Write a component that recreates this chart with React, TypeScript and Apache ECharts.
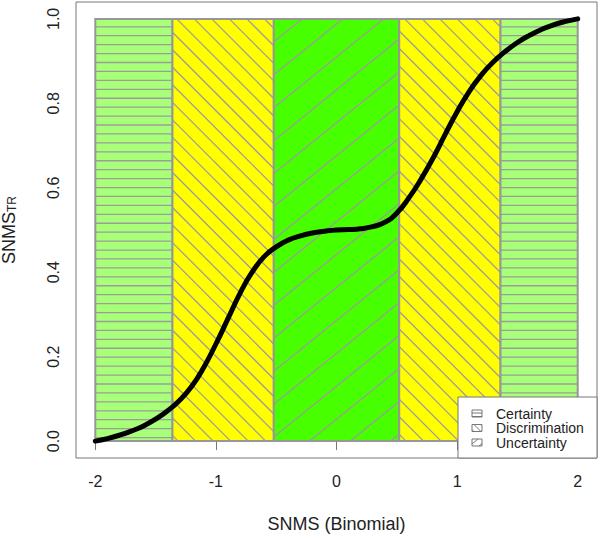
import React, { useEffect, useRef } from "react";
import * as echarts from "echarts";

// ---- data ----
const xTicks = [-2, -1, 0, 1, 2];
const yTicks = [0, 0.2, 0.4, 0.6, 0.8, 1.0];
const curveX = [-2, -1.9, -1.8, -1.7, -1.6, -1.5, -1.4, -1.3, -1.2, -1.1, -1.0, -0.9, -0.8, -0.7, -0.6, -0.5, -0.4, -0.3, -0.2, -0.1, 0, 0.1, 0.2, 0.3, 0.4, 0.5, 0.6, 0.7, 0.8, 0.9, 1.0, 1.1, 1.2, 1.3, 1.4, 1.5, 1.6, 1.7, 1.8, 1.9, 2.0];
const curveY = [0, 0.006, 0.014, 0.024, 0.036, 0.052, 0.072, 0.097, 0.13, 0.175, 0.23, 0.29, 0.35, 0.4, 0.437, 0.46, 0.476, 0.486, 0.493, 0.497, 0.5, 0.501, 0.503, 0.508, 0.518, 0.54, 0.576, 0.62, 0.67, 0.726, 0.78, 0.828, 0.867, 0.898, 0.923, 0.944, 0.961, 0.975, 0.986, 0.994, 1.0];
const regionStarts = [-2, -1.36, -0.52, 0.52, 1.36];
const regionEnds = [-1.36, -0.52, 0.52, 1.36, 2];
const regionKinds = ["Certainty", "Discrimination", "Uncertainty", "Discrimination", "Certainty"];
const regionBottom = 0;
const regionTop = 1;
const legendLabels = ["Certainty", "Discrimination", "Uncertainty"];

// ---- styles ----
const FONT = "'Liberation Sans', Arial, sans-serif";
const kindStyle: Record<string, { fill: string; angle: number; spacing: number; iconSpacing: number }> = {
  Certainty: { fill: "#a8ff78", angle: 0, spacing: 8.93, iconSpacing: 3.5 },
  Discrimination: { fill: "#ffff00", angle: -45, spacing: 12.4, iconSpacing: 5 },
  Uncertainty: { fill: "#48ff00", angle: 39, spacing: 25.6, iconSpacing: 6 },
};
const HATCH = "#9c9c9c";

function hatchLines(
  r: { x: number; y: number; w: number; h: number },
  angleDeg: number,
  spacing: number,
  stroke: string,
  lw: number,
  z?: number
) {
  const a = (angleDeg * Math.PI) / 180;
  const d = [Math.cos(a), -Math.sin(a)];
  const n = [Math.sin(a), Math.cos(a)];
  const corners = [
    [r.x, r.y],
    [r.x + r.w, r.y],
    [r.x, r.y + r.h],
    [r.x + r.w, r.y + r.h],
  ];
  const cs = corners.map((p) => p[0] * n[0] + p[1] * n[1]);
  const cmin = Math.min(...cs);
  const cmax = Math.max(...cs);
  const out: any[] = [];
  for (let c = Math.ceil(cmin / spacing) * spacing; c <= cmax; c += spacing) {
    const base = [c * n[0], c * n[1]];
    let t0 = -Infinity;
    let t1 = Infinity;
    let ok = true;
    for (let i = 0; i < 2; i++) {
      const lo = i === 0 ? r.x : r.y;
      const hi = lo + (i === 0 ? r.w : r.h);
      if (Math.abs(d[i]) < 1e-9) {
        if (base[i] < lo || base[i] > hi) ok = false;
      } else {
        let ta = (lo - base[i]) / d[i];
        let tb = (hi - base[i]) / d[i];
        if (ta > tb) {
          const tmp = ta;
          ta = tb;
          tb = tmp;
        }
        t0 = Math.max(t0, ta);
        t1 = Math.min(t1, tb);
      }
    }
    if (!ok || !(t1 > t0 + 0.5)) continue;
    const el: any = {
      type: "line",
      silent: true,
      shape: { x1: base[0] + t0 * d[0], y1: base[1] + t0 * d[1], x2: base[0] + t1 * d[0], y2: base[1] + t1 * d[1] },
      style: { stroke, lineWidth: lw },
    };
    if (z !== undefined) el.z = z;
    out.push(el);
  }
  return out;
}

export default function App() {
  const ref = useRef<HTMLDivElement>(null);
  useEffect(() => {
    if (!ref.current) return;
    const chart = echarts.init(ref.current, undefined, { renderer: "svg" });

    const regionData = regionStarts.map((s, i) => [s, regionEnds[i], regionBottom, regionTop, i]);

    // legend graphic
    const LX = 458, LY = 397, LW = 139, LH = 61;
    const rowY = [413.5, 428, 442.5];
    const ZL = 100;
    const legendEls: any[] = [
      { type: "rect", z: ZL, shape: { x: LX, y: LY, width: LW, height: LH }, style: { fill: "#fff", stroke: "#777", lineWidth: 1 } },
    ];
    legendLabels.forEach((lab, i) => {
      const ks = kindStyle[lab];
      const ir = { x: 472, y: rowY[i] - 3.5, w: 10, h: 7 };
      legendEls.push({ type: "rect", z: ZL + 1, shape: { x: ir.x, y: ir.y, width: ir.w, height: ir.h }, style: { fill: "#fff", stroke: "none" } });
      hatchLines(ir, ks.angle, ks.iconSpacing, "#777", 1, ZL + 2).forEach((l) => legendEls.push(l));
      legendEls.push({ type: "rect", z: ZL + 3, shape: { x: ir.x, y: ir.y, width: ir.w, height: ir.h }, style: { fill: "none", stroke: "#777", lineWidth: 1 } });
      legendEls.push({
        type: "text",
        z: ZL + 3,
        x: 496,
        y: rowY[i],
        style: { text: lab, fill: "#222", font: `14px ${FONT}`, textVerticalAlign: "middle", textAlign: "left" },
      });
    });

    chart.setOption({
      animation: false,
      backgroundColor: "#ffffff",
      grid: {
        left: 76,
        top: 2,
        width: 521,
        height: 456,
        show: true,
        borderColor: "#777",
        borderWidth: 1,
        backgroundColor: "transparent",
        containLabel: false,
        outerBoundsMode: "none",
      },
      xAxis: {
        type: "value",
        min: -2.16,
        max: 2.16,
        axisLine: { show: false },
        splitLine: { show: false },
        axisTick: { show: true, length: 9, lineStyle: { color: "#777", width: 1 }, customValues: xTicks },
        axisLabel: {
          customValues: xTicks,
          margin: 15,
          color: "#222",
          fontSize: 16,
          fontFamily: FONT,
          formatter: (v: number) => String(v),
        },
        name: "SNMS (Binomial)",
        nameLocation: "middle",
        nameGap: 57,
        nameTextStyle: { color: "#222", fontSize: 18, fontFamily: FONT },
      },
      yAxis: {
        type: "value",
        min: -0.04,
        max: 1.04,
        axisLine: { show: false },
        splitLine: { show: false },
        axisTick: { show: true, length: 9, lineStyle: { color: "#777", width: 1 }, customValues: yTicks },
        axisLabel: {
          customValues: yTicks,
          margin: 15,
          rotate: 90,
          color: "#222",
          fontSize: 16,
          fontFamily: FONT,
          formatter: (v: number) => v.toFixed(1),
        },
        name: "{a|SNMS}{b|TR}",
        nameLocation: "middle",
        nameRotate: 90,
        nameGap: 58,
        nameTextStyle: {
          color: "#222",
          fontFamily: FONT,
          rich: {
            a: { fontSize: 18, lineHeight: 27, verticalAlign: "bottom", fontFamily: FONT, color: "#222" },
            b: { fontSize: 12, lineHeight: 12, verticalAlign: "bottom", fontFamily: FONT, color: "#222" },
          },
        },
      },
      series: [
        {
          type: "custom",
          z: 1,
          data: regionData,
          encode: { x: [0, 1], y: [2, 3] },
          renderItem: (params: any, api: any) => {
            const x0 = api.value(0);
            const x1 = api.value(1);
            const y0 = api.value(2);
            const y1 = api.value(3);
            const idx = api.value(4);
            const ks = kindStyle[regionKinds[idx]];
            const p0 = api.coord([x0, y1]);
            const p1 = api.coord([x1, y0]);
            const r = { x: p0[0], y: p0[1], w: p1[0] - p0[0], h: p1[1] - p0[1] };
            const children: any[] = [
              { type: "rect", shape: { x: r.x, y: r.y, width: r.w, height: r.h }, style: { fill: ks.fill, stroke: "none" } },
              ...hatchLines(r, ks.angle, ks.spacing, HATCH, 1.3),
              { type: "rect", shape: { x: r.x, y: r.y, width: r.w, height: r.h }, style: { fill: "none", stroke: "#979797", lineWidth: 2 } },
            ];
            return { type: "group", children };
          },
        },
        {
          type: "line",
          z: 5,
          data: curveX.map((x, i) => [x, curveY[i]]),
          smooth: true,
          showSymbol: false,
          symbol: "none",
          lineStyle: { color: "#000", width: 5, cap: "round", join: "round" },
        },
      ],
      graphic: legendEls,
    });
    return () => chart.dispose();
  }, []);
  return <div ref={ref} style={{ position: "fixed", left: 0, top: 0, width: 600, height: 538, background: "#fff" }} />;
}
